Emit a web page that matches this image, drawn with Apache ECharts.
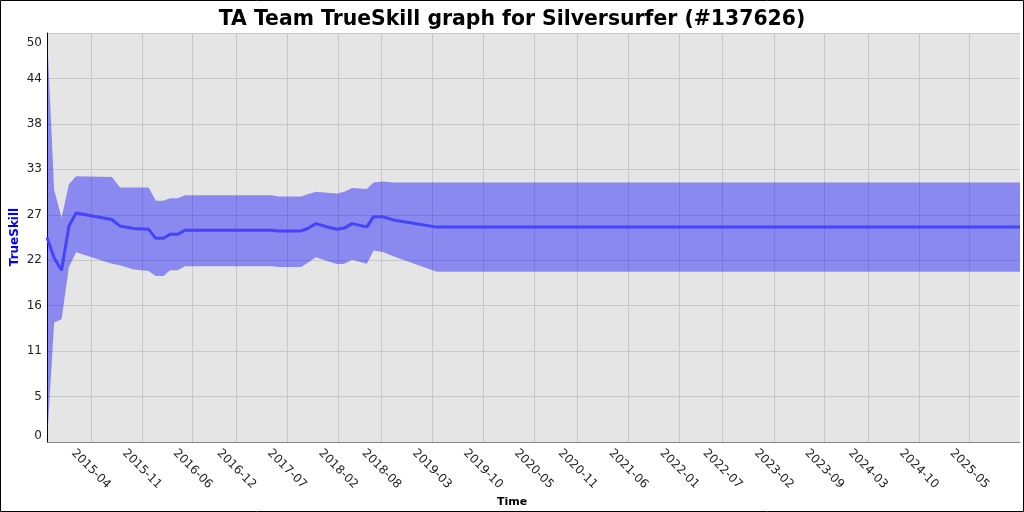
<!DOCTYPE html>
<html>
<head>
<meta charset="utf-8">
<script src="https://cdn.jsdelivr.net/npm/echarts@6/dist/echarts.min.js"></script>
<style>
html,body{margin:0;padding:0;background:#fff;}
#chart{width:1024px;height:512px;}
</style>
</head>
<body>
<div id="chart"></div>
<script>
const titleText = 'TA Team TrueSkill graph for Silversurfer (#137626)';
const yAxisName = 'TrueSkill';
const xAxisName = 'Time';
const dates = ['2014-09-29','2014-10-29','2014-11-29','2014-12-30','2015-01-29','2015-06-28','2015-08-01','2015-09-27','2015-11-29','2015-12-29','2016-01-30','2016-02-27','2016-03-30','2016-04-30','2017-04-29','2017-05-26','2017-08-29','2017-09-26','2017-10-30','2017-12-29','2018-01-29','2018-02-26','2018-03-31','2018-06-01','2018-06-29','2018-08-07','2018-09-20','2019-03-21','2025-11-29'];
const meanVals  = [25.0,22.5,21.0,26.4,28.0,27.2,26.4,26.1,26.0,24.9,24.9,25.4,25.4,25.9,25.9,25.8,25.8,26.1,26.7,26.2,26.0,26.15,26.7,26.3,27.55,27.53,27.15,26.27,26.27];
const upperVals = [50.0,30.8,27.4,31.5,32.5,32.4,31.1,31.1,31.1,29.5,29.5,29.8,29.8,30.15,30.15,30.0,30.0,30.3,30.6,30.45,30.38,30.6,31.04,30.92,31.72,31.85,31.72,31.72,31.72];
const lowerVals = [0.0,14.6,15.0,21.4,23.2,21.8,21.6,21.1,20.9,20.3,20.3,21.0,21.0,21.5,21.5,21.4,21.4,21.9,22.6,22.0,21.74,21.8,22.27,21.8,23.4,23.24,22.7,20.8,20.8];
const xTickLabels = ['2015-04','2015-11','2016-06','2016-12','2017-07','2018-02','2018-08','2019-03','2019-10','2020-05','2020-11','2021-06','2022-01','2022-07','2023-02','2023-09','2024-03','2024-10','2025-05'];
const xMin = '2014-09-29';
const xMax = '2025-11-29';
const yMin = 0, yMax = 50, ySteps = 9;

const chart = echarts.init(document.getElementById('chart'), null, {renderer:'canvas'});
const ts = s => new Date(s + 'T00:00:00Z').getTime();
const tickVals = xTickLabels.map(s => ts(s + '-01'));
const pad = n => (n < 10 ? '0' : '') + n;
const font = 'DejaVu Sans';
const bandData = dates.map((d, i) => [ts(d), lowerVals[i], upperVals[i]]);

chart.setOption({
  animation: false,
  backgroundColor: '#ffffff',
  title: [
    {text: titleText, left: 'center', top: 5,
     textStyle: {fontFamily: font, fontSize: 20.4, fontWeight: 'bold', color: '#000'}},
    {text: xAxisName, left: 'center', top: 492,
     textStyle: {fontFamily: font, fontSize: 11, fontWeight: 'bold', color: '#000'}}
  ],
  graphic: [
    {type: 'rect', shape: {x: 0.5, y: 0.5, width: 1023, height: 511},
     style: {fill: null, stroke: '#000', lineWidth: 1}, silent: true, z: 100},
    {type: 'text', x: 15, y: 237, rotation: Math.PI / 2, silent: true, z: 100,
     style: {text: yAxisName, align: 'center', verticalAlign: 'middle',
             font: 'bold 12px "DejaVu Sans"', fill: '#0000ff'}}
  ],
  grid: {left: 47, right: 4, top: 33, bottom: 70, containLabel: false, outerBoundsMode: 'none',
         show: true, backgroundColor: '#e5e5e5', borderWidth: 0},
  xAxis: {
    type: 'value', min: ts(xMin), max: ts(xMax), scale: true,
    axisLine: {show: true, lineStyle: {color: '#888', width: 1}},
    axisTick: {show: false, customValues: tickVals},
    splitLine: {show: true, lineStyle: {color: '#c8c8c8', width: 1}},
    axisLabel: {
      customValues: tickVals,
      rotate: -45, align: 'center', verticalAlign: 'middle', margin: 27,
      fontFamily: font, fontSize: 12, color: '#222',
      formatter: v => { const d = new Date(v); return d.getUTCFullYear() + '-' + pad(d.getUTCMonth() + 1); }
    }
  },
  yAxis: {
    type: 'value', min: yMin, max: yMax, interval: (yMax - yMin) / ySteps,
    axisLine: {show: true, lineStyle: {color: '#000', width: 1}},
    axisTick: {show: false},
    splitLine: {show: true, lineStyle: {color: '#c8c8c8', width: 1}},
    axisLabel: {
      fontFamily: font, fontSize: 12, color: '#222', margin: 5,
      verticalAlignMaxLabel: 'top', verticalAlignMinLabel: 'bottom',
      formatter: v => {
        const s = String(Math.floor(v + 1e-6));
        return v >= yMax - 1e-6 ? '{mx|' + s + '}' : s;
      },
      rich: {mx: {fontFamily: font, fontSize: 12, color: '#222', lineHeight: 19}}
    }
  },
  series: [
    {type: 'custom', name: 'band', silent: true, clip: true,
     encode: {x: 0, y: [1, 2]},
     data: bandData,
     renderItem: (params, api) => {
       if (params.dataIndex !== 0) return null;
       const pts = [];
       for (let i = 0; i < bandData.length; i++) pts.push(api.coord([bandData[i][0], bandData[i][2]]));
       for (let i = bandData.length - 1; i >= 0; i--) pts.push(api.coord([bandData[i][0], bandData[i][1]]));
       return {type: 'polygon', shape: {points: pts}, style: {fill: 'rgba(0,0,255,0.40)'}};
     }},
    {type: 'line', name: 'mean', symbol: 'none', silent: true, z: 3,
     lineStyle: {color: '#4444fc', width: 3},
     data: dates.map((d, i) => [ts(d), meanVals[i]])}
  ]
});
</script>
</body>
</html>
